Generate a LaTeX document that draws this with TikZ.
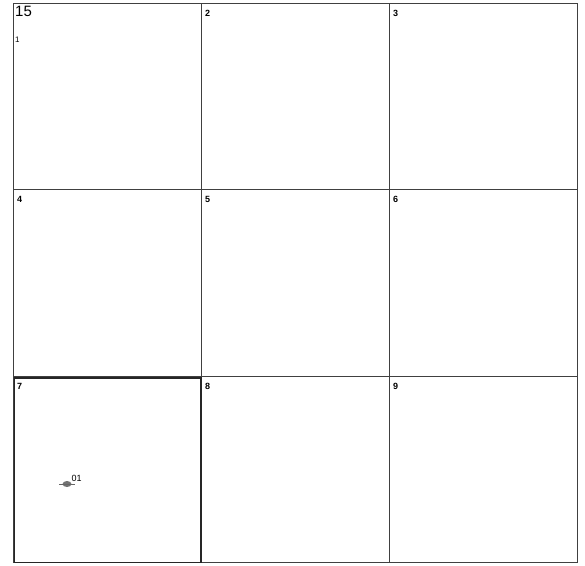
\documentclass[tikz,border=0pt]{standalone}
\usepackage{fontspec}
\setmainfont{Liberation Sans}
\usepackage{tikz}
\usetikzlibrary{positioning,shapes.geometric}

\begin{document}
\begin{tikzpicture}[
    x=1pt, y=-1pt,
    cell/.style={
        rectangle, draw=black!75, line width=0.7pt,
        minimum width=188pt, minimum height=186.3pt, inner sep=0pt,
        anchor=north west
    },
    picked/.style={draw=black!85, line width=1.8pt,
        minimum width=186.5pt, minimum height=184.5pt},
    num/.style={font=\fontsize{9}{10}\selectfont\bfseries, inner sep=0pt, anchor=north west},
    mapno/.style={font=\fontsize{15}{16}\selectfont, inner sep=0pt, anchor=north west},
    spot/.style={ellipse, fill=black!55, minimum width=9pt, minimum height=6pt, inner sep=0pt},
    tag/.style={font=\fontsize{9}{10}\selectfont, inner sep=0pt}
]
\useasboundingbox (0,0) rectangle (585,565);

% 3x3 grid of sheets
\foreach \r in {0,1,2} {
    \foreach \c in {0,1,2} {
        \pgfmathtruncatemacro{\k}{3*\r+\c+1}
        \node[cell] (cell\k) at ({13+188*\c},{3+186.3*\r}) {};
    }
}
\node[cell, picked] (cell7sel) at (13.5,377) {};

% sheet numbers
\node[mapno] (mapno) at (15,6) {15};
\node[num, font=\fontsize{8}{9}\selectfont] (n1) at (15,37) {1};
\foreach \k in {2,...,9} {
    \node[num] (n\k) at ([shift={(4pt,-7pt)}]cell\k.north west) {\k};
}

% sample spot in sheet 7
\node[spot] (s01) at (67,484) {};
\draw[black!60, line width=0.7pt] ([xshift=-3pt]s01.west) -- ([xshift=3pt]s01.east);
\node[tag, anchor=south west] (t01) at ([shift={(1pt,0pt)}]s01.north east) {01};
\end{tikzpicture}
\end{document}
